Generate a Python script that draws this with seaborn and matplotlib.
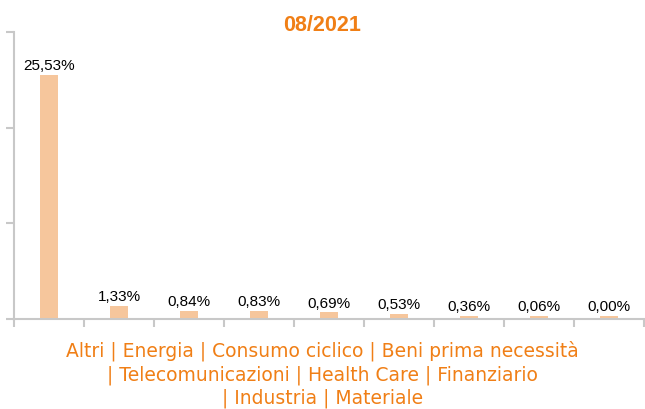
import matplotlib
matplotlib.use('Agg')
import matplotlib.pyplot as plt
import numpy as np
import pandas as pd
import seaborn as sns

# Data
sectors = ['Altri', 'Energia', 'Consumo ciclico', 'Beni prima necessità',
           'Telecomunicazioni', 'Health Care', 'Finanziario', 'Industria', 'Materiale']
weights = [25.53, 1.33, 0.84, 0.83, 0.69, 0.53, 0.36, 0.06, 0.00]
labels = ['25,53%', '1,33%', '0,84%', '0,83%', '0,69%', '0,53%', '0,36%', '0,06%', '0,00%']
title = '08/2021'

orange = '#f07f16'
bar_color = '#f6c69c'
axis_gray = '#c8c8c8'

df = pd.DataFrame({'sector': sectors, 'weight': weights})
# the source chart keeps tiny bars visible with a minimum height
df['shown'] = np.maximum(df['weight'], 0.3)

sns.set_style('white')
plt.rcParams['font.family'] = ['Liberation Sans', 'DejaVu Sans']

fig = plt.figure(figsize=(6.45, 4.10), dpi=100)
ax = fig.add_axes([14 / 645, 90 / 410, 630 / 645, 287 / 410])

sns.barplot(data=df, x='sector', y='shown', color=bar_color, width=0.25,
            saturation=1, linewidth=0, ax=ax)

ax.set_ylim(0, 30)
ax.set_xlim(-0.5, len(sectors) - 0.5)
ax.set_yticks([0, 10, 20, 30])
ax.set_yticklabels([])
ax.set_xticks(np.arange(len(sectors) + 1) - 0.5)
ax.set_xticklabels([])
ax.set_xlabel('')
ax.set_ylabel('')
ax.tick_params(axis='both', direction='out', length=6, width=1.5, color=axis_gray,
               bottom=True, left=True)

for side in ['top', 'right']:
    ax.spines[side].set_visible(False)
for side in ['left', 'bottom']:
    ax.spines[side].set_color(axis_gray)
    ax.spines[side].set_linewidth(1.5)

for i, (v, lab) in enumerate(zip(df['shown'], labels)):
    ax.annotate(lab, (i, v), xytext=(0, 2), textcoords='offset points',
                ha='center', va='bottom', fontsize=11, color='black')

fig.text(0.5, 1 - 31 / 410, title, ha='center', va='baseline',
         fontsize=15.5, fontweight='bold', color=orange)

caption = ['Altri | Energia | Consumo ciclico | Beni prima necessità',
           '| Telecomunicazioni | Health Care | Finanziario',
           '| Industria | Materiale']
for k, line in enumerate(caption):
    fig.text(0.5, 1 - (357 + 23.5 * k) / 410, line, ha='center', va='baseline',
             fontsize=13.5, color=orange, family='DejaVu Sans')

fig.savefig('out.png', dpi=100)
